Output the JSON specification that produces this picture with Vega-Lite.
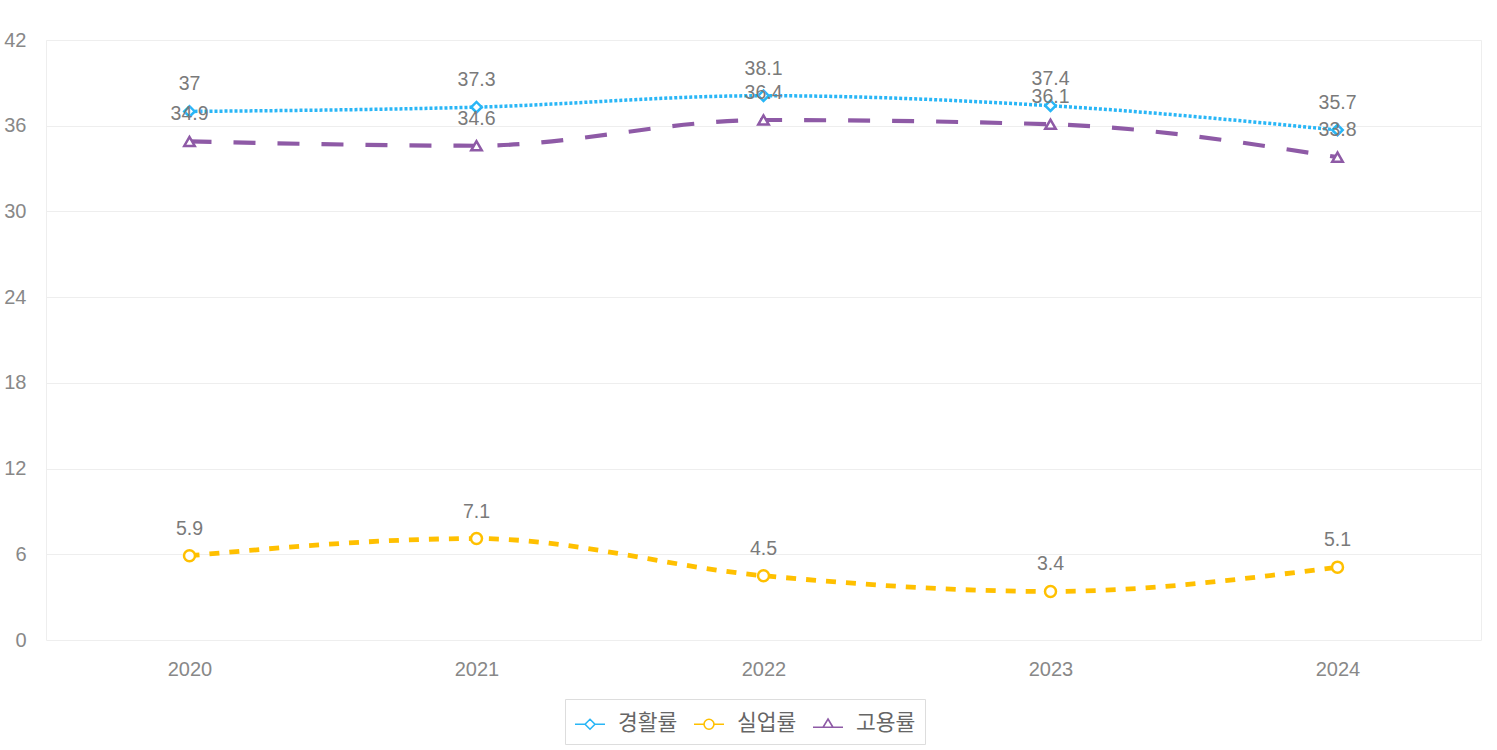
{
  "$schema": "https://vega.github.io/schema/vega-lite/v6.json",
  "width": 1435,
  "height": 600,
  "autosize": {"type": "none"},
  "padding": {"left": 46, "top": 40, "right": 16, "bottom": 110},
  "background": "white",
  "config": {
    "view": {"stroke": "#eeeeee"},
    "font": "Liberation Sans, Noto Sans CJK KR",
    "axis": {"labelFont": "Liberation Sans", "labelColor": "#888888", "labelFontSize": 20}
  },
  "data": {
    "values": [
      {"year": "2020", "series": "경활률", "value": 37},
      {"year": "2021", "series": "경활률", "value": 37.3},
      {"year": "2022", "series": "경활률", "value": 38.1},
      {"year": "2023", "series": "경활률", "value": 37.4},
      {"year": "2024", "series": "경활률", "value": 35.7},
      {"year": "2020", "series": "실업률", "value": 5.9},
      {"year": "2021", "series": "실업률", "value": 7.1},
      {"year": "2022", "series": "실업률", "value": 4.5},
      {"year": "2023", "series": "실업률", "value": 3.4},
      {"year": "2024", "series": "실업률", "value": 5.1},
      {"year": "2020", "series": "고용률", "value": 34.9},
      {"year": "2021", "series": "고용률", "value": 34.6},
      {"year": "2022", "series": "고용률", "value": 36.4},
      {"year": "2023", "series": "고용률", "value": 36.1},
      {"year": "2024", "series": "고용률", "value": 33.8}
    ]
  },
  "encoding": {
    "x": {
      "field": "year",
      "type": "ordinal",
      "scale": {"type": "point", "padding": 0.5},
      "axis": {"title": null, "domain": false, "ticks": false, "labelAngle": 0, "labelPadding": 19, "grid": false}
    },
    "y": {
      "field": "value",
      "type": "quantitative",
      "scale": {"domain": [0, 42], "nice": false},
      "axis": {
        "title": null,
        "values": [0, 6, 12, 18, 24, 30, 36, 42],
        "ticks": false,
        "domain": false,
        "labelPadding": 20,
        "gridColor": {"condition": {"test": "datum.value === 0", "value": "transparent"}, "value": "#eeeeee"}
      }
    }
  },
  "layer": [
    {
      "mark": {"type": "line", "interpolate": "monotone"},
      "encoding": {
        "color": {
          "field": "series",
          "type": "nominal",
          "scale": {"range": ["#29B6F6", "#8E5AA6", "#FFC000"]},
          "legend": null
        },
        "strokeDash": {
          "field": "series",
          "type": "nominal",
          "scale": {"range": [[3, 2], [22, 22], [10, 10]]},
          "legend": null
        },
        "strokeWidth": {
          "field": "series",
          "type": "nominal",
          "scale": {"range": [3.5, 4.8, 4]},
          "legend": null
        }
      }
    },
    {
      "transform": [{"filter": "datum.series === '경활률'"}],
      "mark": {"type": "point", "shape": "diamond", "filled": false, "fill": "white", "stroke": "#29B6F6", "size": 110, "strokeWidth": 2.5, "opacity": 1}
    },
    {
      "transform": [{"filter": "datum.series === '실업률'"}],
      "mark": {"type": "point", "shape": "circle", "filled": false, "fill": "white", "stroke": "#FFC000", "size": 121, "strokeWidth": 2.5, "opacity": 1}
    },
    {
      "transform": [{"filter": "datum.series === '고용률'"}],
      "mark": {"type": "point", "shape": "triangle-up", "filled": false, "fill": "white", "stroke": "#8E5AA6", "size": 110, "strokeWidth": 2.5, "opacity": 1}
    },
    {
      "mark": {"type": "text", "dy": -27, "fontSize": 19.5, "font": "Liberation Sans", "color": "#7a7a7a"},
      "encoding": {"text": {"field": "value", "type": "quantitative"}}
    },
    {
      "mark": {"type": "point", "filled": false, "strokeWidth": 2, "opacity": 0},
      "encoding": {
        "stroke": {
          "field": "series",
          "type": "nominal",
          "scale": {"domain": ["경활률", "실업률", "고용률"], "range": ["#29B6F6", "#FFC000", "#8E5AA6"]}
        },
        "shape": {
          "field": "series",
          "type": "nominal",
          "scale": {
            "domain": ["경활률", "실업률", "고용률"],
            "range": [
              "M-1,0L-0.33,0M0.33,0L1,0M0,-0.33L0.33,0L0,0.33L-0.33,0Z",
              "M-1,0L-0.33,0M0.33,0L1,0M0.33,0A0.33,0.33,0,1,1,-0.33,0A0.33,0.33,0,1,1,0.33,0Z",
              "M-1,0.2L-0.33,0.2M0.33,0.2L1,0.2M0,-0.35L0.33,0.2L-0.33,0.2Z"
            ]
          },
          "legend": {
            "title": null,
            "orient": "none",
            "direction": "horizontal",
            "legendX": 519,
            "legendY": 659,
            "padding": 9,
            "strokeColor": "#dddddd",
            "symbolSize": 900,
            "symbolStrokeWidth": 1.6,
            "symbolFillColor": "white",
            "symbolOpacity": 1,
            "labelFont": "Noto Sans CJK KR",
            "labelFontSize": 21.5,
            "labelColor": "#666666",
            "labelOffset": 12,
            "columnPadding": 12
          }
        }
      }
    }
  ]
}
